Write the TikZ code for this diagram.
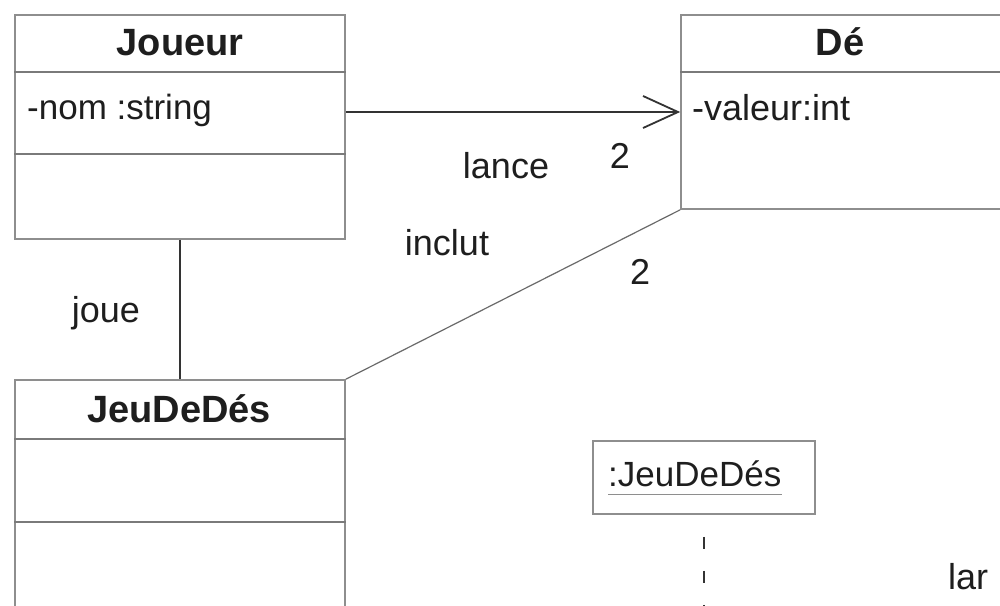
\documentclass[tikz,border=0pt]{standalone}
\usepackage{fontspec}
\setmainfont{Liberation Sans}
\usetikzlibrary{arrows.meta}
\definecolor{boxgray}{HTML}{8E8E8E}
\definecolor{sepgray}{HTML}{7A7A7A}
\definecolor{txt}{HTML}{1E1E1E}
\definecolor{dark}{HTML}{333333}
\definecolor{thin}{HTML}{6A6A6A}
\begin{document}
\begin{tikzpicture}[x=1pt,y=-1pt,
  box/.style={draw=boxgray, line width=1.6pt, inner sep=0pt, fill=white},
  sepline/.style={draw=sepgray, line width=1.6pt},
  title/.style={font=\fontsize{38}{42}\selectfont\bfseries, text=txt, inner sep=0pt, anchor=base},
  attr/.style={font=\fontsize{35}{40}\selectfont, text=txt, inner sep=0pt, anchor=base west},
  lbl/.style={font=\fontsize{36}{40}\selectfont, text=txt, inner sep=0pt, anchor=base},
  assoc/.style={draw=dark, line width=2.6pt},
  thinassoc/.style={draw=thin, line width=1.2pt},
  lifeline/.style={draw=dark, line width=2.2pt, dash pattern=on 12pt off 22pt, dash phase=-22pt}
]
\useasboundingbox (0,0) rectangle (1000,605);
\clip (0,0) rectangle (1000,605);
\fill[white] (0,0) rectangle (1000,605);

% Joueur class
\node[box, minimum width=330pt, minimum height=224pt] (joueur) at (180,127) {};
\draw[sepline] ([yshift=-58pt]joueur.north west) -- ([yshift=-58pt]joueur.north east);
\draw[sepline] ([yshift=-140pt]joueur.north west) -- ([yshift=-140pt]joueur.north east);
\node[title] (joueurT) at (180,55) {Joueur};
\node[attr] (joueurA) at (27,119) {-nom :string};

% De class
\node[box, minimum width=324pt, minimum height=194pt] (de) at (843,112) {};
\draw[sepline] ([yshift=-58pt]de.north west) -- ([yshift=-58pt]de.north east);
\node[title] (deT) at (840,55) {Dé};
\node[attr, font=\fontsize{36}{40}\selectfont] (deA) at (692,120) {-valeur:int};

% JeuDeDes class
\node[box, minimum width=330pt, minimum height=240pt] (jeu) at (180,500) {};
\draw[sepline] ([yshift=-60pt]jeu.north west) -- ([yshift=-60pt]jeu.north east);
\draw[sepline] ([yshift=-143pt]jeu.north west) -- ([yshift=-143pt]jeu.north east);
\node[title] (jeuT) at (179,422) {JeuDeDés};

% associations
\draw[assoc, -{Straight Barb[length=35pt, width=32pt, line width=1.8pt]}]
  ([yshift=15pt]joueur.east) -- (de.west);
\node[lbl] (lance) at (506,178) {lance};
\node[lbl] (m1) at (620,168) {2};

\draw[thinassoc] (jeu.north east) -- (de.south west);
\node[lbl] (inclut) at (447,255) {inclut};
\node[lbl] (m2) at (640,284) {2};

\draw[assoc] (joueur.south) -- (jeu.north);
\node[lbl] (joue) at (106,322) {joue};

% sequence object
\node[box, minimum width=222pt, minimum height=73pt] (obj) at (704,477.5) {};
\node[attr] (objT) at (608,486) {:JeuDeDés};
\draw[draw=boxgray, line width=1pt] ([yshift=-8pt]objT.base west) -- ([yshift=-8pt]objT.base east);
\coordinate (lifeend) at (704,620);
\draw[lifeline] (obj.south) -- (lifeend);
\node[lbl, anchor=base west] (lance2) at (948,589) {lar};
\end{tikzpicture}
\end{document}
